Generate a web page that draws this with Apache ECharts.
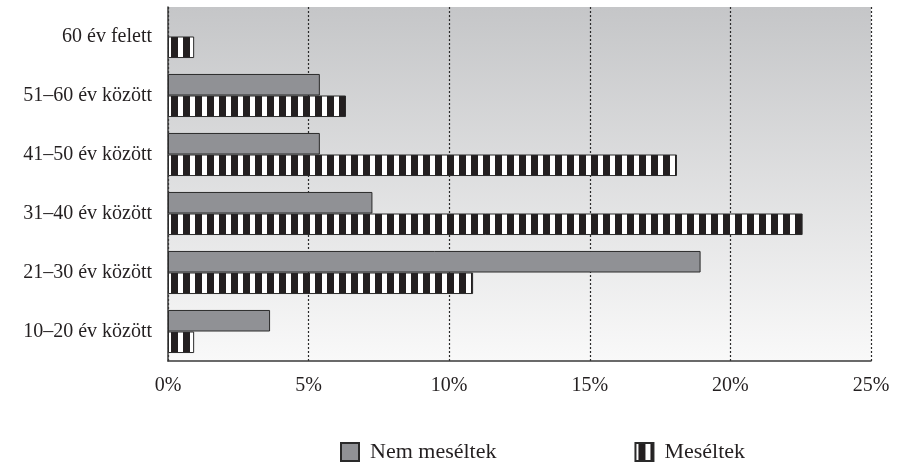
<!DOCTYPE html>
<html>
<head>
<meta charset="utf-8">
<script src="https://cdn.jsdelivr.net/npm/echarts@6/dist/echarts.min.js"></script>
<style>
html, body { margin: 0; padding: 0; background: #fff; }
#chart { width: 898px; height: 463px; }
</style>
</head>
<body>
<div id="chart"></div>
<script>
// categories from top to bottom
var categories = ["60 év felett", "51–60 év között", "41–50 év között", "31–40 év között", "21–30 év között", "10–20 év között"];
var nemMeseltek = [null, 5.4, 5.4, 7.27, 18.94, 3.63];
var meseltek = [0.93, 6.33, 18.1, 22.57, 10.85, 0.93];
var seriesNames = ["Nem meséltek", "Meséltek"];

// black / white vertical stripes
var stripe = document.createElement("canvas");
stripe.width = 12;
stripe.height = 12;
var ctx = stripe.getContext("2d");
ctx.fillStyle = "#ffffff";
ctx.fillRect(0, 0, 12, 12);
ctx.fillStyle = "#231f20";
ctx.fillRect(3, 0, 7, 12);

var font = "'Liberation Serif', 'DejaVu Serif', serif";
var chart = echarts.init(document.getElementById("chart"));
chart.setOption({
    animation: false,
    grid: {
        left: 168,
        right: 27,
        top: 7,
        bottom: 102,
        show: true,
        borderWidth: 0,
        backgroundColor: {
            type: "linear",
            x: 0, y: 0, x2: 0, y2: 1,
            colorStops: [
                { offset: 0, color: "#c5c6c8" },
                { offset: 1, color: "#f9f9f9" }
            ]
        }
    },
    legend: {
        top: 436,
        left: 335,
        itemGap: 138,
        itemWidth: 18,
        itemHeight: 18,
        icon: "rect",
        textStyle: { fontFamily: font, fontSize: 22, color: "#231f20", padding: [0, 0, 0, 6] },
        data: seriesNames
    },
    xAxis: {
        type: "value",
        min: 0,
        max: 25,
        interval: 5,
        axisLine: { show: true, lineStyle: { color: "#3a3a3a", width: 1.5 } },
        axisTick: { show: false },
        axisLabel: {
            formatter: "{value}%",
            margin: 15,
            fontFamily: font,
            fontSize: 20,
            color: "#231f20"
        },
        splitLine: {
            show: true,
            lineStyle: { color: "#2a2a2a", type: [2, 2], width: 1.2 }
        }
    },
    yAxis: {
        type: "category",
        inverse: true,
        data: categories,
        axisLine: { show: true, lineStyle: { color: "#3a3a3a", width: 1.5 } },
        axisTick: { show: false },
        axisLabel: {
            margin: 16,
            fontFamily: font,
            fontSize: 20,
            color: "#231f20"
        }
    },
    series: [
        {
            name: seriesNames[0],
            type: "bar",
            data: nemMeseltek,
            barGap: "0%",
            barCategoryGap: "27%",
            itemStyle: { color: "#909195", borderColor: "#2a2a2a", borderWidth: 1 }
        },
        {
            name: seriesNames[1],
            type: "bar",
            data: meseltek,
            barGap: "0%",
            barCategoryGap: "27%",
            itemStyle: {
                color: { image: stripe, repeat: "repeat" },
                borderColor: "#2a2a2a",
                borderWidth: 1
            }
        }
    ]
});
</script>
</body>
</html>
